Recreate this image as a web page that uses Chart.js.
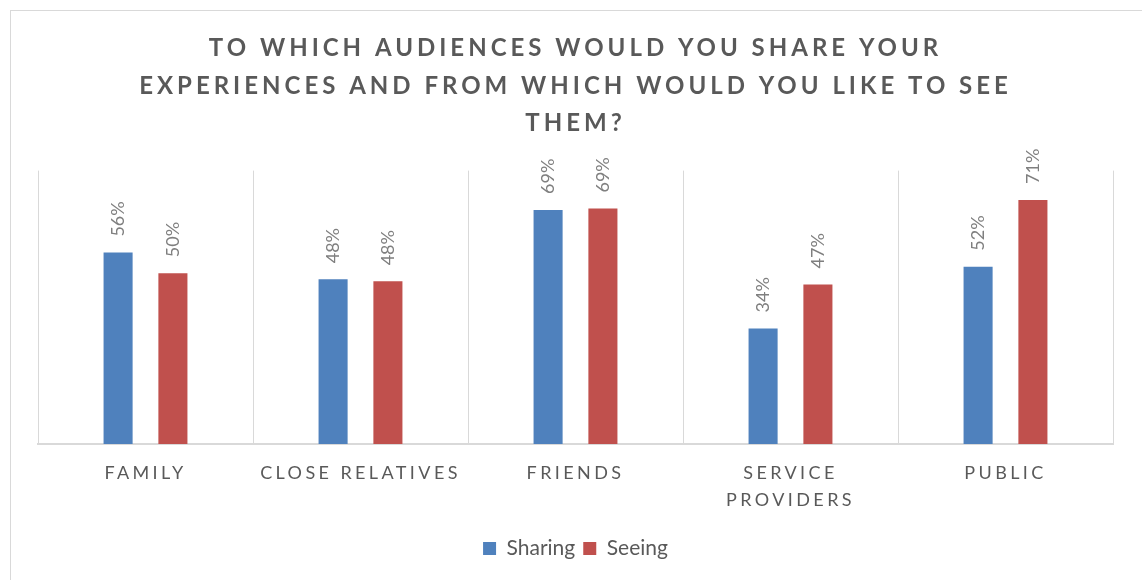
<!DOCTYPE html>
<html>
<head>
<meta charset="utf-8">
<script src="https://cdn.jsdelivr.net/npm/chart.js@4/dist/chart.umd.min.js"></script>
<style>
  html, body { margin: 0; padding: 0; background: #fff; overflow: hidden; }
  #frame { position: absolute; left: 10px; top: 10px; width: 1140px; height: 580px; border: 1px solid #d9d9d9; }
  #wrap { position: absolute; left: 0; top: 0; width: 1142px; height: 580px; }
</style>
</head>
<body>
<div id="frame"></div>
<div id="wrap"><canvas id="chart" width="1142" height="580"></canvas></div>
<script>
const categories = ['FAMILY', 'CLOSE RELATIVES', 'FRIENDS', ['SERVICE', 'PROVIDERS'], 'PUBLIC'];
const sharing = [56.0, 48.2, 68.5, 33.8, 51.9];
const seeing = [50.0, 47.6, 68.9, 46.7, 71.4];
const titleLines = [
    'TO WHICH AUDIENCES WOULD YOU SHARE YOUR',
    'EXPERIENCES AND FROM WHICH WOULD YOU LIKE TO SEE',
    'THEM?'
];

const FONT = 'Lato';
const TEXT_COLOR = '#595959';
const GRID_COLOR = '#d9d9d9';

// rotated value labels above each bar
const barLabels = {
    id: 'barLabels',
    afterDatasetsDraw(chart) {
        const ctx = chart.ctx;
        ctx.save();
        ctx.font = '18px ' + FONT;
        ctx.fillStyle = '#7f7f7f';
        ctx.textAlign = 'left';
        ctx.textBaseline = 'middle';
        chart.data.datasets.forEach((ds, i) => {
            chart.getDatasetMeta(i).data.forEach((bar, j) => {
                ctx.save();
                ctx.translate(bar.x, bar.y - 16);
                ctx.rotate(-Math.PI / 2);
                ctx.fillText(Math.round(ds.data[j]) + '%', 0, 0);
                ctx.restore();
            });
        });
        ctx.restore();
    }
};

// letter spacing for the title and the category labels
function spaced(obj, key, spacing) {
    if (!obj || obj['_sp_' + key]) return;
    const orig = obj[key];
    obj[key] = function (...args) {
        const c = this.ctx;
        c.save();
        c.letterSpacing = spacing;
        orig.apply(this, args);
        c.restore();
    };
    obj['_sp_' + key] = true;
}

const letterSpacing = {
    id: 'letterSpacing',
    afterLayout(chart) {
        spaced(chart.scales.x, 'drawLabels', '3.4px');
        spaced(chart.titleBlock, 'draw', '4px');
    }
};

const ctx = document.getElementById('chart').getContext('2d');
const chart = new Chart(ctx, {
    type: 'bar',
    data: {
        labels: categories,
        datasets: [{
            label: 'Sharing',
            data: sharing,
            backgroundColor: '#4f81bd',
            categoryPercentage: 0.51,
            barPercentage: 0.53
        }, {
            label: 'Seeing',
            data: seeing,
            backgroundColor: '#c0504d',
            categoryPercentage: 0.51,
            barPercentage: 0.53
        }]
    },
    options: {
        responsive: false,
        animation: false,
        layout: {
            padding: { left: 38, right: 29, top: 11, bottom: 11 }
        },
        scales: {
            x: {
                grid: { color: GRID_COLOR, drawTicks: false },
                border: { color: GRID_COLOR, width: 2 },
                ticks: {
                    color: TEXT_COLOR,
                    font: { family: FONT, size: 18, lineHeight: 1.5 },
                    padding: 16,
                    maxRotation: 0,
                    autoSkip: false
                }
            },
            y: {
                display: false,
                min: 0,
                max: 80
            }
        },
        plugins: {
            title: {
                display: true,
                text: titleLines,
                color: TEXT_COLOR,
                font: { family: FONT, size: 24, weight: 'bold', lineHeight: 1.55 },
                padding: { top: 19, bottom: 29 }
            },
            legend: {
                position: 'bottom',
                labels: {
                    color: TEXT_COLOR,
                    font: { family: FONT, size: 21 },
                    boxWidth: 13,
                    boxHeight: 13,
                    padding: 8
                }
            },
            tooltip: { enabled: false }
        }
    },
    plugins: [barLabels, letterSpacing]
});
</script>
</body>
</html>
